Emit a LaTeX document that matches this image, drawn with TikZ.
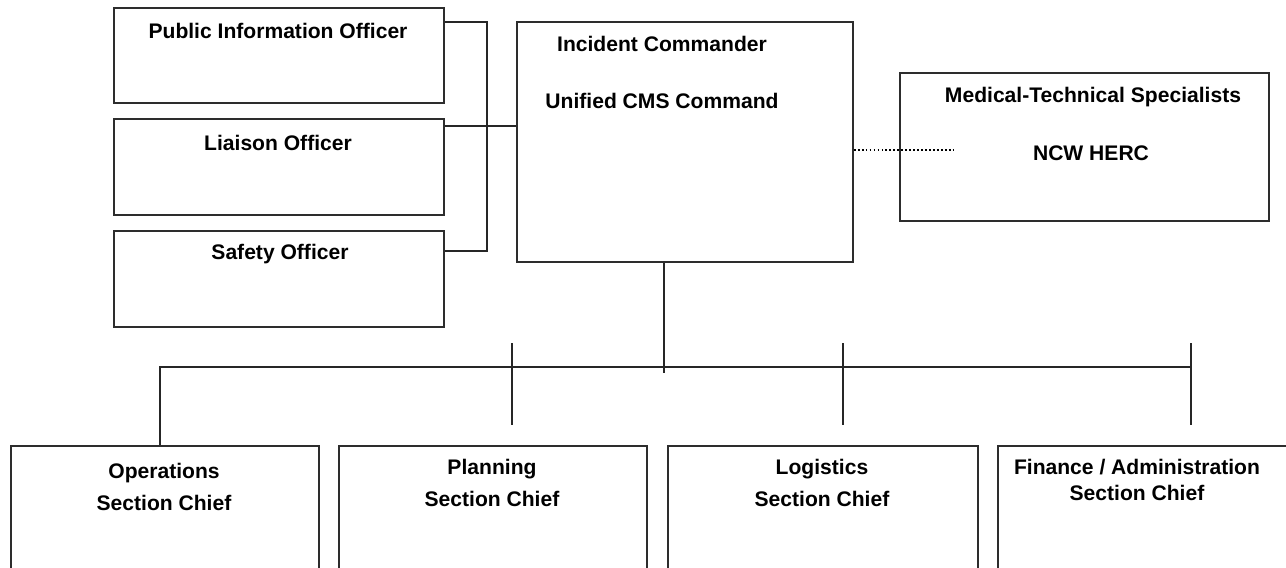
\documentclass[tikz,border=0pt]{standalone}
\usepackage{fontspec}
\setmainfont{Liberation Sans}
\usepackage{xcolor}
\usepackage{tikz}
\usetikzlibrary{positioning, calc}
\definecolor{edgec}{RGB}{45,45,45}

\begin{document}
\begin{tikzpicture}[x=0.02cm, y=-0.02cm,
    box/.style={draw=edgec, line width=1.1pt, anchor=north west, inner sep=0pt},
    ttl/.style={font=\fontsize{12}{15}\selectfont\bfseries, align=center},
    sec/.style={font=\fontsize{12}{18.5}\selectfont\bfseries, align=center},
    conn/.style={draw=black!85, line width=0.65pt},
    dots/.style={draw=black, line width=0.9pt, dash pattern={on 1pt off 1.25pt}}]
  \useasboundingbox (0,0) rectangle (1286,568);
  \clip (0,0) rectangle (1286,568);
  % command staff
  \node[box, minimum width=6.6cm, minimum height=1.9cm] (pio) at (113,7) {};
  \node[box, minimum width=6.6cm, minimum height=1.92cm] (liaison) at (113,118) {};
  \node[box, minimum width=6.6cm, minimum height=1.92cm] (safety) at (113,230) {};
  \node[ttl] (pioT) at (278,31) {Public Information Officer};
  \node[ttl] (liaisonT) at (278,143) {Liaison Officer};
  \node[ttl] (safetyT) at (280,254) {Safety Officer};
  % command
  \node[box, minimum width=6.72cm, minimum height=4.8cm] (ic) at (516,21) {};
  \node[ttl] (icT) at (662,44) {Incident Commander};
  \node[ttl] (ucT) at (662,101) {Unified CMS Command};
  \node[box, minimum width=7.38cm, minimum height=2.96cm] (med) at (899,72) {};
  \node[ttl] (medT) at (1093,97) {Medical-Technical Specialists};
  \node[ttl] (hercT) at (1091,153) {NCW HERC};
  % general staff
  \node[box, minimum width=6.16cm, minimum height=3.1cm] (ops) at (10,445) {};
  \node[box, minimum width=6.16cm, minimum height=3.1cm] (plan) at (338,445) {};
  \node[box, minimum width=6.2cm, minimum height=3.1cm] (log) at (667,445) {};
  \node[box, minimum width=6.3cm, minimum height=3.1cm] (fin) at (997,445) {};
  \node[sec] (opsT) at (164,487) {Operations\\Section Chief};
  \node[sec, font=\fontsize{12}{18}\selectfont\bfseries] (planT) at (492,483) {Planning\\Section Chief};
  \node[sec, font=\fontsize{12}{18}\selectfont\bfseries] (logT) at (822,483) {Logistics\\Section Chief};
  \node[sec, font=\fontsize{12}{15.3}\selectfont\bfseries] (finT) at (1137,480) {Finance / Administration\\Section Chief};
  % connectors
  \coordinate (brk) at (487,22);
  \coordinate (bus) at (664,367);
  \coordinate (dotend) at (955,150);
  \draw[conn] ($(pio.north east)+(0,15)$) -| ($(brk)+(0,229)$)
    -- ($(safety.north east)+(0,21)$);
  \draw[conn] ($(liaison.north east)+(0,8)$) -- ($(ic.north west)+(0,105)$);
  \draw[dots] (dotend -| ic.east) -- (dotend);
  \draw[conn] (ic.south -| bus) -- ($(bus)+(0,6)$);
  \foreach \x/\n in {512/plan, 843/log, 1191/fin} {
    \coordinate (\n-tick) at (\x,343);
    \draw[conn] (\n-tick) -- ++(0,82);
  }
  \draw[conn] ($(ops.north)+(-5,0)$) |- (fin-tick |- bus);
\end{tikzpicture}
\end{document}
